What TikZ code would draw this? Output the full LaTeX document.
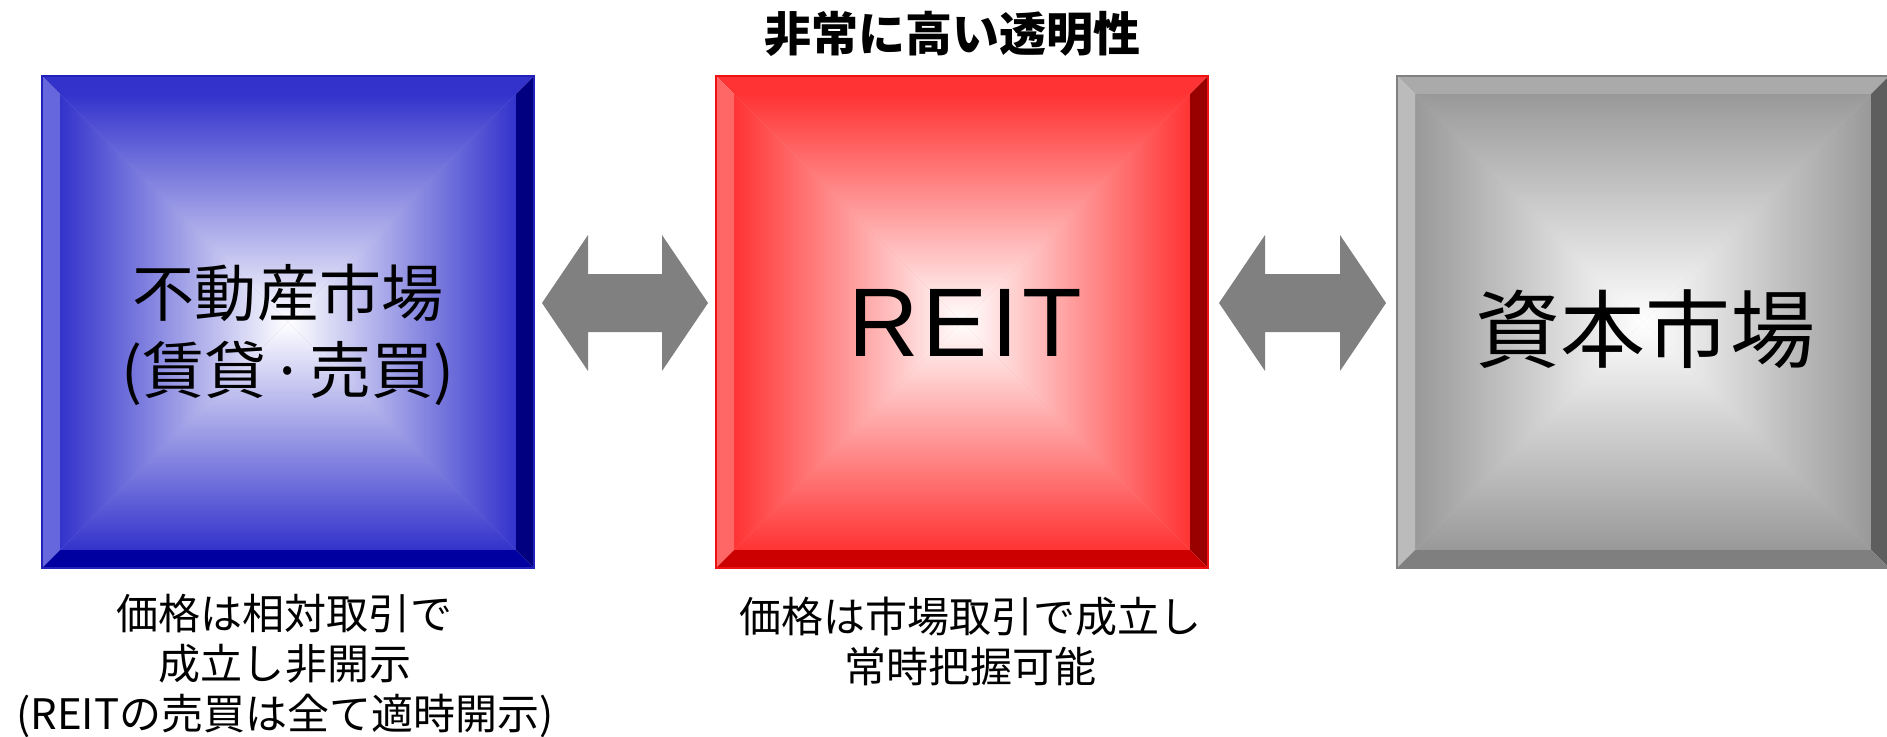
\documentclass[tikz,border=0pt]{standalone}
\usepackage{fontspec}
\setmainfont{Noto Sans CJK JP}
\newfontfamily\reitfont[LetterSpace=4]{Liberation Sans}
\usetikzlibrary{positioning, calc, backgrounds}
\definecolor{BlueTop}{HTML}{3333CC}
\definecolor{BlueLeft}{HTML}{6666DD}
\definecolor{BlueRight}{HTML}{000080}
\definecolor{BlueBottom}{HTML}{0000A0}
\definecolor{BlueEdge}{HTML}{3333CC}
\definecolor{BlueLine}{HTML}{2222BB}
\definecolor{RedTop}{HTML}{FF3333}
\definecolor{RedLeft}{HTML}{FF6666}
\definecolor{RedRight}{HTML}{990000}
\definecolor{RedBottom}{HTML}{CC0000}
\definecolor{RedEdge}{HTML}{FF3333}
\definecolor{RedLine}{HTML}{EE1111}
\definecolor{GrayTop}{HTML}{AAAAAA}
\definecolor{GrayLeft}{HTML}{BBBBBB}
\definecolor{GrayRight}{HTML}{5E5E5E}
\definecolor{GrayBottom}{HTML}{7F7F7F}
\definecolor{GrayEdge}{HTML}{999999}
\definecolor{GrayLine}{HTML}{808080}
\definecolor{ArrowGray}{HTML}{808080}
\tikzset{
  panel/.style={rectangle, minimum width=196.8pt, minimum height=196.8pt,
    inner sep=0pt, outer sep=0pt, align=center},
  boxtext/.style={align=center, font=\fontsize{24.8}{30.8}\selectfont},
  captext/.style={align=center, font=\fontsize{34}{40}\selectfont},
  reittext/.style={font=\reitfont\fontsize{39}{39}\selectfont},
  titletext/.style={font=\bfseries\fontsize{18.8}{22}\selectfont},
  notetext/.style={align=center, font=\fontsize{16.8}{20}\selectfont},
  blockarrow/.style={fill=ArrowGray},
}
% bevelled panel behind node #1, colour set #2
\newcommand{\bevelpanel}[2]{%
  \coordinate (#1-nw) at ($(#1.north west)+(18,-18)$);
  \coordinate (#1-ne) at ($(#1.north east)+(-18,-18)$);
  \coordinate (#1-sw) at ($(#1.south west)+(18,18)$);
  \coordinate (#1-se) at ($(#1.south east)+(-18,18)$);
  \fill[#2Edge!55!white] (#1-nw) rectangle (#1-se);
  \shade[top color=#2Edge, middle color=#2Edge!60!white, bottom color=white]
    (#1-nw) -- (#1-ne) -- (#1.center) -- cycle;
  \shade[bottom color=#2Edge, middle color=#2Edge!60!white, top color=white]
    (#1-sw) -- (#1-se) -- (#1.center) -- cycle;
  \shade[left color=#2Edge, middle color=#2Edge!60!white, right color=white]
    (#1-nw) -- (#1-sw) -- (#1.center) -- cycle;
  \shade[right color=#2Edge, middle color=#2Edge!60!white, left color=white]
    (#1-ne) -- (#1-se) -- (#1.center) -- cycle;
  \fill[#2Top] (#1.north west) -- (#1.north east) -- (#1-ne) -- (#1-nw) -- cycle;
  \fill[#2Left] (#1.north west) -- (#1-nw) -- (#1-sw) -- (#1.south west) -- cycle;
  \fill[#2Right] (#1.north east) -- (#1.south east) -- (#1-se) -- (#1-ne) -- cycle;
  \fill[#2Bottom] (#1.south west) -- (#1-sw) -- (#1-se) -- (#1.south east) -- cycle;
  \draw[#2Line, line width=0.6pt] (#1.north west) rectangle (#1.south east);
}
% grey double block arrow between nodes #1 and #2, gap #3
\newcommand{\blockarrow}[3]{%
  \coordinate (#1-tip) at ($(#1.east)+(#3,19)$);
  \coordinate (#2-tip) at ($(#2.west)+(-#3,19)$);
  \fill[blockarrow] (#1-tip) -- ($(#1-tip)+(46,68)$) -- ($(#1-tip)+(46,29)$)
    -- ($(#2-tip)+(-46,29)$) -- ($(#2-tip)+(-46,68)$) -- (#2-tip)
    -- ($(#2-tip)+(-46,-68)$) -- ($(#2-tip)+(-46,-29)$)
    -- ($(#1-tip)+(46,-29)$) -- ($(#1-tip)+(46,-68)$) -- cycle;
}
\begin{document}
\begin{tikzpicture}[x=0.4pt, y=0.4pt]
  \useasboundingbox (0,0) rectangle (1887,736);
  \node[panel] (land) at (288,414) {};
  \node[panel, right=72.8pt of land] (reit) {};
  \node[panel, right=75.6pt of reit] (cap) {};
  \begin{scope}[on background layer]
    \bevelpanel{land}{Blue}
    \bevelpanel{reit}{Red}
    \bevelpanel{cap}{Gray}
  \end{scope}
  \node[boxtext] (landtext) at ($(land.center)+(0,-13)$) {不動産市場\\(賃貸\kern1.5pt·\kern1.5pt売買)};
  \node[reittext] (reittext) at ($(reit.center)+(3,-1)$) {REIT};
  \node[captext] (captext) at ($(cap.center)+(2,-7)$) {資本市場};
  \node[titletext] (title) at ($(reit.north)+(-10,42)$) {非常に高い透明性};
  \node[notetext] (landnote) at ($(land.south)+(-3,-98)$)
    {価格は相対取引で\\成立し非開示\\(REITの売買は全て適時開示)};
  \node[notetext] (reitnote) at ($(reit.south)+(8,-73.5)$)
    {価格は市場取引で成立し\\常時把握可能};
  \blockarrow{land}{reit}{8}
  \blockarrow{reit}{cap}{11}
\end{tikzpicture}
\end{document}
